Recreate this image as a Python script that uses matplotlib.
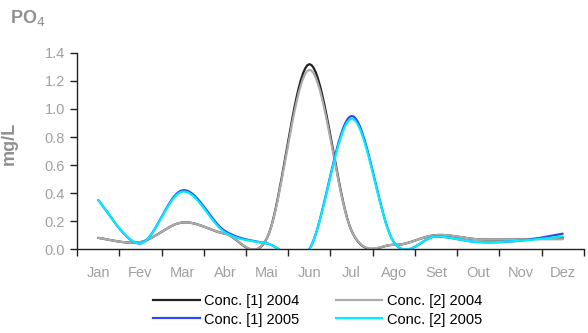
import numpy as np
import matplotlib
matplotlib.use("Agg")
import matplotlib.pyplot as plt
from matplotlib.lines import Line2D

plt.rcParams['font.family'] = ['Liberation Sans', 'DejaVu Sans']

meses = ["Jan", "Fev", "Mar", "Abr", "Mai", "Jun", "Jul", "Ago", "Set", "Out", "Nov", "Dez"]
conc1_2004 = [0.08, 0.05, 0.19, 0.11, 0.08, 1.32, 0.13, 0.03, 0.10, 0.07, 0.07, 0.08]
conc2_2004 = [0.08, 0.05, 0.19, 0.11, 0.08, 1.28, 0.13, 0.03, 0.10, 0.07, 0.07, 0.07]
conc1_2005 = [0.35, 0.04, 0.42, 0.13, 0.04, 0.00, 0.95, 0.05, 0.09, 0.05, 0.06, 0.11]
conc2_2005 = [0.35, 0.04, 0.41, 0.12, 0.04, 0.00, 0.93, 0.05, 0.09, 0.05, 0.06, 0.09]


def smooth(y, n=20):
    # catmull-rom style curve through the points (like Excel "smoothed line")
    y = np.asarray(y, dtype=float)
    x = np.arange(len(y), dtype=float)
    px = np.concatenate([[x[0]], x, [x[-1]]])
    py = np.concatenate([[y[0]], y, [y[-1]]])
    xs, ys = [], []
    t = np.linspace(0, 1, n, endpoint=False)
    for i in range(1, len(px) - 2):
        p0, p1, p2, p3 = py[i - 1], py[i], py[i + 1], py[i + 2]
        q0, q1, q2, q3 = px[i - 1], px[i], px[i + 1], px[i + 2]
        c1y, c2y = p1 + (p2 - p0) / 6, p2 - (p3 - p1) / 6
        c1x, c2x = q1 + (q2 - q0) / 6, q2 - (q3 - q1) / 6
        b = [(1 - t) ** 3, 3 * (1 - t) ** 2 * t, 3 * (1 - t) * t ** 2, t ** 3]
        xs.append(b[0] * q1 + b[1] * c1x + b[2] * c2x + b[3] * q2)
        ys.append(b[0] * p1 + b[1] * c1y + b[2] * c2y + b[3] * p2)
    xs.append([x[-1]])
    ys.append([y[-1]])
    return np.concatenate(xs), np.concatenate(ys)


series = [
    ("Conc. [1] 2004", conc1_2004, "#222222"),
    ("Conc. [2] 2004", conc2_2004, "#ababab"),
    ("Conc. [1] 2005", conc1_2005, "#3048f0"),
    ("Conc. [2] 2005", conc2_2005, "#00eeff"),
]

fig = plt.figure(figsize=(5.88, 3.33), dpi=100)
ax = fig.add_axes([0.131, 0.252, 0.862, 0.589])

for label, vals, cor in series:
    sx, sy = smooth(vals)
    ax.plot(sx, sy, color=cor, lw=1.6, label=label, solid_capstyle='round')

ax.set_xlim(-0.5, 11.5)
ax.set_ylim(0, 1.4)
ax.set_yticks(np.arange(0, 1.41, 0.2))
ax.set_yticklabels([f"{v:.1f}" for v in np.arange(0, 1.41, 0.2)])
ax.set_xticks(np.arange(len(meses)))
ax.set_xticklabels(meses)
ax.set_xticks(np.arange(-0.5, 11.6, 1), minor=True)
ax.tick_params(axis='x', which='major', length=0, pad=12, labelsize=10.5, labelcolor='#a0a0a0')
ax.tick_params(axis='x', which='minor', length=5, width=1, color='#222222')
ax.tick_params(axis='y', length=5, width=1, color='#222222', labelsize=10.5, labelcolor='#a0a0a0')
for s in ['top', 'right']:
    ax.spines[s].set_visible(False)
for s in ['left', 'bottom']:
    ax.spines[s].set_color('#222222')
    ax.spines[s].set_linewidth(1)
ax.set_ylabel("mg/L", fontsize=13, fontweight='bold', color='#909090')
ax.yaxis.set_label_coords(-0.117, 0.54)

fig.text(0.017, 0.932, "PO$_4$", fontsize=13, fontweight='bold', color='#909090')

handles = [Line2D([], [], color=c, lw=1.6) for _, _, c in series]
labels = [l for l, _, _ in series]
fig.legend([handles[0], handles[2], handles[1], handles[3]],
           [labels[0], labels[2], labels[1], labels[3]],
           ncol=2, loc='lower center', bbox_to_anchor=(0.54, -0.02), frameon=False,
           fontsize=10.5, handlelength=3.2, columnspacing=2.5, handletextpad=0.3,
           labelspacing=0.3)

fig.savefig("out.png", dpi=100)
